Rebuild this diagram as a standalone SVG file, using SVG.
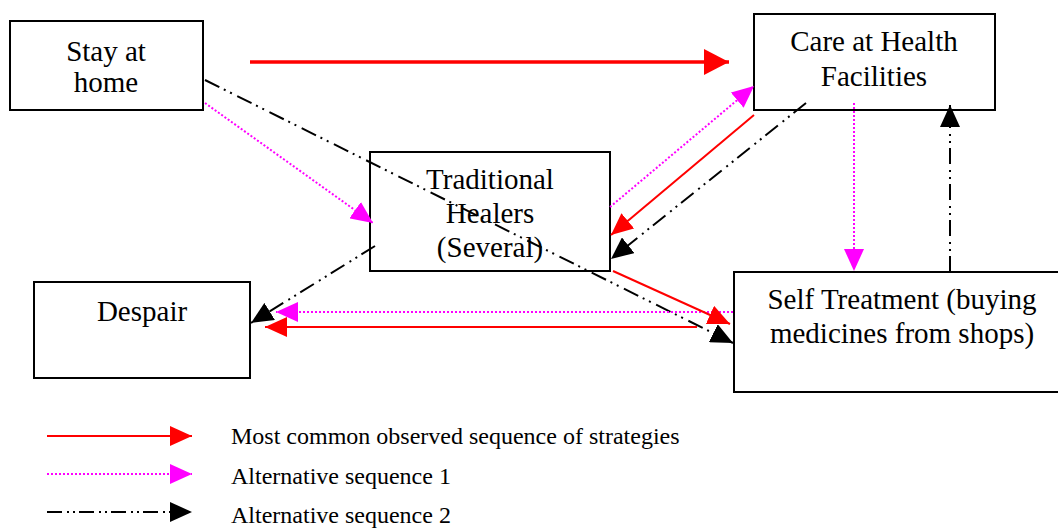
<svg xmlns="http://www.w3.org/2000/svg" width="1058" height="529" viewBox="0 0 1058 529">
<defs>
<style>
.box{fill:#fff;stroke:#000;stroke-width:2}
.t{font-family:"Liberation Serif","Times New Roman",serif;font-size:29px;fill:#000;text-anchor:middle}
.lg{font-family:"Liberation Serif","Times New Roman",serif;font-size:24px;fill:#000}
.red{stroke:#ff0000;stroke-width:2;fill:none}
.redthick{stroke:#ff0000;stroke-width:3.5;fill:none}
.mag{stroke:#ff00ff;stroke-width:2;stroke-dasharray:2 2;fill:none}
.blk{stroke:#000;stroke-width:2;stroke-dasharray:16 5 2 5 2 6;fill:none}
.blkl{stroke:#000;stroke-width:2;stroke-dasharray:15 5 2 4 2 4;fill:none}
</style>
<marker id="hr" markerUnits="userSpaceOnUse" markerWidth="22" markerHeight="20" refX="22" refY="10" orient="auto"><path d="M0,0 L22,10 L0,20 z" fill="#ff0000"/></marker>
<marker id="hrb" markerUnits="userSpaceOnUse" markerWidth="25" markerHeight="26" refX="25" refY="13" orient="auto"><path d="M0,0 L25,13 L0,26 z" fill="#ff0000"/></marker>
<marker id="hm" markerUnits="userSpaceOnUse" markerWidth="22" markerHeight="20" refX="22" refY="10" orient="auto"><path d="M0,0 L22,10 L0,20 z" fill="#ff00ff"/></marker>
<marker id="hk" markerUnits="userSpaceOnUse" markerWidth="22" markerHeight="20" refX="22" refY="10" orient="auto"><path d="M0,0 L22,10 L0,20 z" fill="#000"/></marker>
</defs>
<rect width="1058" height="529" fill="#fff"/>

<g id="node-stay">
<rect class="box" x="10" y="21" width="193" height="89"/>
<text class="t" x="106" y="60.5">Stay at</text>
<text class="t" x="106" y="92">home</text>
</g>

<g id="node-care">
<rect class="box" x="754" y="14" width="241" height="96"/>
<text class="t" x="874" y="50.5">Care at Health</text>
<text class="t" x="874" y="86">Facilities</text>
</g>

<g id="node-despair">
<rect class="box" x="34" y="282" width="216" height="96"/>
<text class="t" x="142" y="320.5">Despair</text>
</g>

<g id="node-self">
<rect class="box" x="734" y="272" width="330" height="120"/>
<text class="t" x="902" y="309.3">Self Treatment (buying</text>
<text class="t" x="902" y="342.7">medicines from shops)</text>
</g>

<g id="node-traditional">
<rect class="box" x="370" y="152" width="240" height="119"/>
</g>

<g id="connectors">
<line class="redthick" x1="250" y1="62" x2="729" y2="62" marker-end="url(#hrb)"/>
<line class="blk" x1="205" y1="80" x2="733" y2="343" marker-end="url(#hk)"/>
<line class="mag" x1="205" y1="103" x2="373" y2="223" marker-end="url(#hm)"/>
<line class="mag" x1="610" y1="207" x2="754" y2="86" marker-end="url(#hm)"/>
<line class="red" x1="754" y1="115" x2="611" y2="235" marker-end="url(#hr)"/>
<line class="blk" x1="806" y1="103" x2="611" y2="259" marker-end="url(#hk)"/>
<line class="mag" x1="854" y1="103" x2="854" y2="271" marker-end="url(#hm)"/>
<line class="blk" x1="950" y1="272" x2="950" y2="105" marker-end="url(#hk)"/>
<line class="blk" x1="375" y1="246" x2="251" y2="323" marker-end="url(#hk)"/>
<line class="mag" x1="733" y1="312" x2="276" y2="312" marker-end="url(#hm)"/>
<line class="red" x1="697" y1="327" x2="265" y2="327" marker-end="url(#hr)"/>
<line class="red" x1="613" y1="271" x2="730" y2="324" marker-end="url(#hr)"/>
</g>

<g id="traditional-label">
<text class="t" x="490" y="189">Traditional</text>
<text class="t" x="490" y="223">Healers</text>
<text class="t" x="490" y="256.5">(Several)</text>
</g>

<g id="legend">
<line class="red" x1="47" y1="436" x2="192" y2="436" marker-end="url(#hr)"/>
<line class="mag" x1="47" y1="474" x2="192" y2="474" marker-end="url(#hm)"/>
<line class="blkl" x1="47" y1="512" x2="192" y2="512" marker-end="url(#hk)"/>
<text class="lg" x="231" y="444">Most common observed sequence of strategies</text>
<text class="lg" x="231" y="484">Alternative sequence 1</text>
<text class="lg" x="231" y="523">Alternative sequence 2</text>
</g>
</svg>
